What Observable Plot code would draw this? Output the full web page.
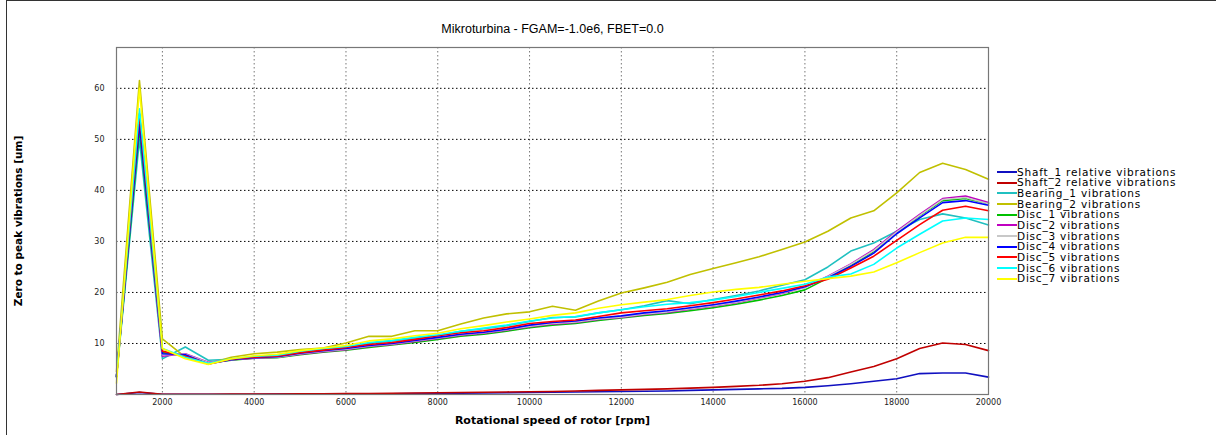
<!DOCTYPE html>
<html><head><meta charset="utf-8">
<script src="https://cdn.jsdelivr.net/npm/d3@7"></script>
<script src="https://cdn.jsdelivr.net/npm/@observablehq/plot@0.6"></script>
<style>
body{margin:0;background:#fff;}
#wrap{position:relative;width:1216px;height:435px;overflow:hidden;background:#fff;}
#wrap svg{position:absolute;left:0;top:0;}
#border{position:absolute;left:6px;top:0;width:1230px;height:450px;border-top:1.5px solid #333;border-left:1.5px solid #333;pointer-events:none;}
#legend{position:absolute;left:997px;top:166.5px;font:10.5px "DejaVu Sans",sans-serif;letter-spacing:0.8px;color:#000;}
.item{height:10.7px;line-height:10.7px;display:flex;align-items:center;white-space:nowrap;}
.sw{width:20px;height:2px;flex:none;}
</style></head>
<body>
<div id="wrap"><div id="border"></div><div id="legend"></div></div>
<script>
const title = "Mikroturbina - FGAM=-1.0e6, FBET=0.0";
const xTitle = "Rotational speed of rotor [rpm]";
const yTitle = "Zero to peak vibrations [um]";
const xTicks = [2000, 4000, 6000, 8000, 10000, 12000, 14000, 16000, 18000, 20000];
const yTicks = [10, 20, 30, 40, 50, 60];
const xGrid = [2000, 4000, 6000, 8000, 10000, 12000, 14000, 16000, 18000];
const names = ["Shaft_1 relative vibrations","Shaft_2 relative vibrations","Bearing_1 vibrations","Bearing_2 vibrations","Disc_1 vibrations","Disc_2 vibrations","Disc_3 vibrations","Disc_4 vibrations","Disc_5 vibrations","Disc_6 vibrations","Disc_7 vibrations"];
const colors = ["#1010c0","#c00000","#20c0c0","#c0c000","#00c000","#c000c0","#c8c8c8","#0000ff","#ff0000","#00ffff","#ffff00"];
const rpm = [1000,1500,2000,2500,3000,3500,4000,4500,5000,5500,6000,6500,7000,7500,8000,8500,9000,9500,10000,10500,11000,11500,12000,12500,13000,13500,14000,14500,15000,15500,16000,16500,17000,17500,18000,18500,19000,19500,20000];
const shaft1 = [0,0.4,0.05,0.05,0.05,0.05,0.05,0.1,0.1,0.1,0.1,0.15,0.15,0.2,0.2,0.25,0.3,0.35,0.4,0.45,0.5,0.55,0.6,0.65,0.7,0.8,0.9,1.0,1.1,1.2,1.4,1.7,2.1,2.6,3.1,4.1,4.2,4.2,3.4];
const shaft2 = [0,0.5,0.05,0.05,0.05,0.1,0.1,0.1,0.15,0.15,0.2,0.2,0.25,0.3,0.35,0.4,0.45,0.5,0.55,0.6,0.7,0.8,0.9,1.0,1.1,1.25,1.4,1.6,1.8,2.1,2.6,3.3,4.4,5.5,7.0,9.0,10.1,9.8,8.6];
const bearing1 = [3.5,50,7.0,9.3,6.7,6.9,7.3,7.6,8.3,8.9,9.2,10.0,10.5,11.0,11.5,12.4,12.9,13.5,14.3,15.1,15.2,16.0,16.6,17.4,18.4,17.8,18.6,19.4,20.3,21.4,22.5,25.0,28.1,29.7,32.0,34.3,35.4,34.6,33.2];
const bearing2 = [4.5,61.5,10.9,7.3,6.0,7.3,8.0,8.3,8.8,9.1,10.1,11.4,11.4,12.5,12.5,13.8,15.0,15.8,16.2,17.3,16.5,18.3,19.9,20.9,22.0,23.5,24.7,25.8,27.0,28.4,29.9,32.0,34.6,36.0,39.5,43.5,45.3,44.1,42.2];
const disc1 = [3.5,52,8.2,7.6,6.2,6.7,7.1,7.2,7.8,8.3,8.7,9.2,9.7,10.2,10.8,11.4,11.8,12.4,13.1,13.6,13.9,14.5,15.0,15.5,15.9,16.4,17.0,17.7,18.5,19.4,20.5,22.8,25.3,28.0,31.7,35.0,38.0,38.4,37.4];
const disc2 = [3.5,55,7.5,8.0,6.3,6.8,7.1,7.3,7.9,8.4,8.8,9.4,9.8,10.4,11.0,11.6,12.0,12.6,13.3,13.8,14.1,14.7,15.1,15.7,16.1,16.7,17.3,18.0,18.9,19.8,21.0,23.2,25.6,28.4,32.0,35.3,38.4,38.9,37.6];
const disc3 = [3.5,54,7.8,7.9,6.2,6.8,7.2,7.3,8.0,8.5,8.9,9.5,9.9,10.5,11.1,11.7,12.1,12.7,13.4,13.9,14.2,14.8,15.2,15.8,16.2,16.8,17.4,18.1,19.0,19.9,21.0,23.1,25.5,28.2,31.8,35.1,38.2,38.6,37.4];
const disc4 = [3.5,53,8.0,7.8,6.0,6.8,7.2,7.4,8.1,8.6,9.0,9.6,10.0,10.6,11.2,11.8,12.2,12.8,13.6,14.1,14.4,15.0,15.4,16.0,16.4,17.0,17.6,18.3,19.1,20.0,21.1,22.9,25.1,27.7,31.5,34.6,37.6,38.0,37.1];
const disc5 = [3.5,55,8.5,7.5,6.0,6.9,7.3,7.5,8.2,8.7,9.2,9.8,10.2,10.8,11.5,12.1,12.5,13.1,13.9,14.3,14.6,15.3,16.0,16.4,16.8,17.4,18.0,18.7,19.5,20.3,21.3,22.6,24.8,27.1,30.2,33.3,36.1,36.9,36.0];
const disc6 = [3.5,56,9.0,7.3,6.1,7.0,7.5,7.7,8.5,9.0,9.4,10.2,10.6,11.2,11.7,12.4,13.0,13.6,14.4,15.0,15.3,16.0,16.6,17.2,17.7,18.0,18.5,19.2,20.0,20.8,21.6,23.0,23.6,25.5,28.7,31.4,34.0,34.6,34.3];
const disc7 = [2.2,60.0,9.0,7.0,5.9,7.0,7.6,7.9,8.6,9.1,9.6,10.5,10.9,11.5,12.0,12.9,13.5,14.2,14.8,15.5,16.0,16.9,17.6,18.1,18.6,19.4,20.1,20.6,21.0,21.6,22.2,22.7,23.2,24.0,25.8,27.8,29.7,30.8,30.8];
const series = [shaft1, shaft2, bearing1, bearing2, disc1, disc2, disc3, disc4, disc5, disc6, disc7];

const rows = names.flatMap((n, i) => rpm.map((r, j) => ({name: n, rpm: r, v: series[i][j]})));

const chart = Plot.plot({
  width: 1216, height: 435,
  marginLeft: 116, marginRight: 228, marginTop: 47, marginBottom: 41,
  style: {fontFamily: "DejaVu Sans, sans-serif", fontSize: "8px", background: "transparent", color: "#222"},
  x: {domain: [1000, 20000]},
  y: {domain: [0, 68]},
  color: {domain: names, range: colors},
  marks: [
    Plot.gridX(xGrid, {stroke: "#777", strokeOpacity: 1, strokeDasharray: "1.5,2.5", strokeWidth: 1}),
    Plot.gridY(yTicks, {stroke: "#000", strokeOpacity: 1, strokeDasharray: "1.5,2.5", strokeWidth: 1}),
    Plot.axisX(xTicks, {tickSize: 0, tickPadding: 5, label: null, tickFormat: d => String(d)}),
    Plot.axisY(yTicks, {tickSize: 0, tickPadding: 12, label: null}),
    Plot.line(rows, {x: "rpm", y: "v", z: "name", stroke: "name", strokeWidth: 1.6}),
    Plot.frame({stroke: "#777", strokeWidth: 1.2}),
    Plot.text([xTitle], {frameAnchor: "bottom", dy: 29, textAnchor: "middle", fontWeight: "bold", fontSize: 11, fill: "#000"}),
    Plot.text([yTitle], {frameAnchor: "left", dx: -98, rotate: -90, textAnchor: "middle", fontWeight: "bold", fontSize: 10.5, fill: "#000"}),
    Plot.text([title], {frameAnchor: "top", dy: -23, textAnchor: "middle", fontSize: 12.5, fontFamily: "Liberation Sans, sans-serif", fill: "#000"})
  ]
});
document.getElementById("wrap").insertBefore(chart, document.getElementById("border"));

const legend = document.getElementById("legend");
names.forEach((n, i) => {
  const it = document.createElement("div");
  it.className = "item";
  const sw = document.createElement("span");
  sw.className = "sw";
  sw.style.background = colors[i];
  const tx = document.createElement("span");
  tx.textContent = n;
  it.appendChild(sw); it.appendChild(tx);
  legend.appendChild(it);
});
</script>
</body></html>
